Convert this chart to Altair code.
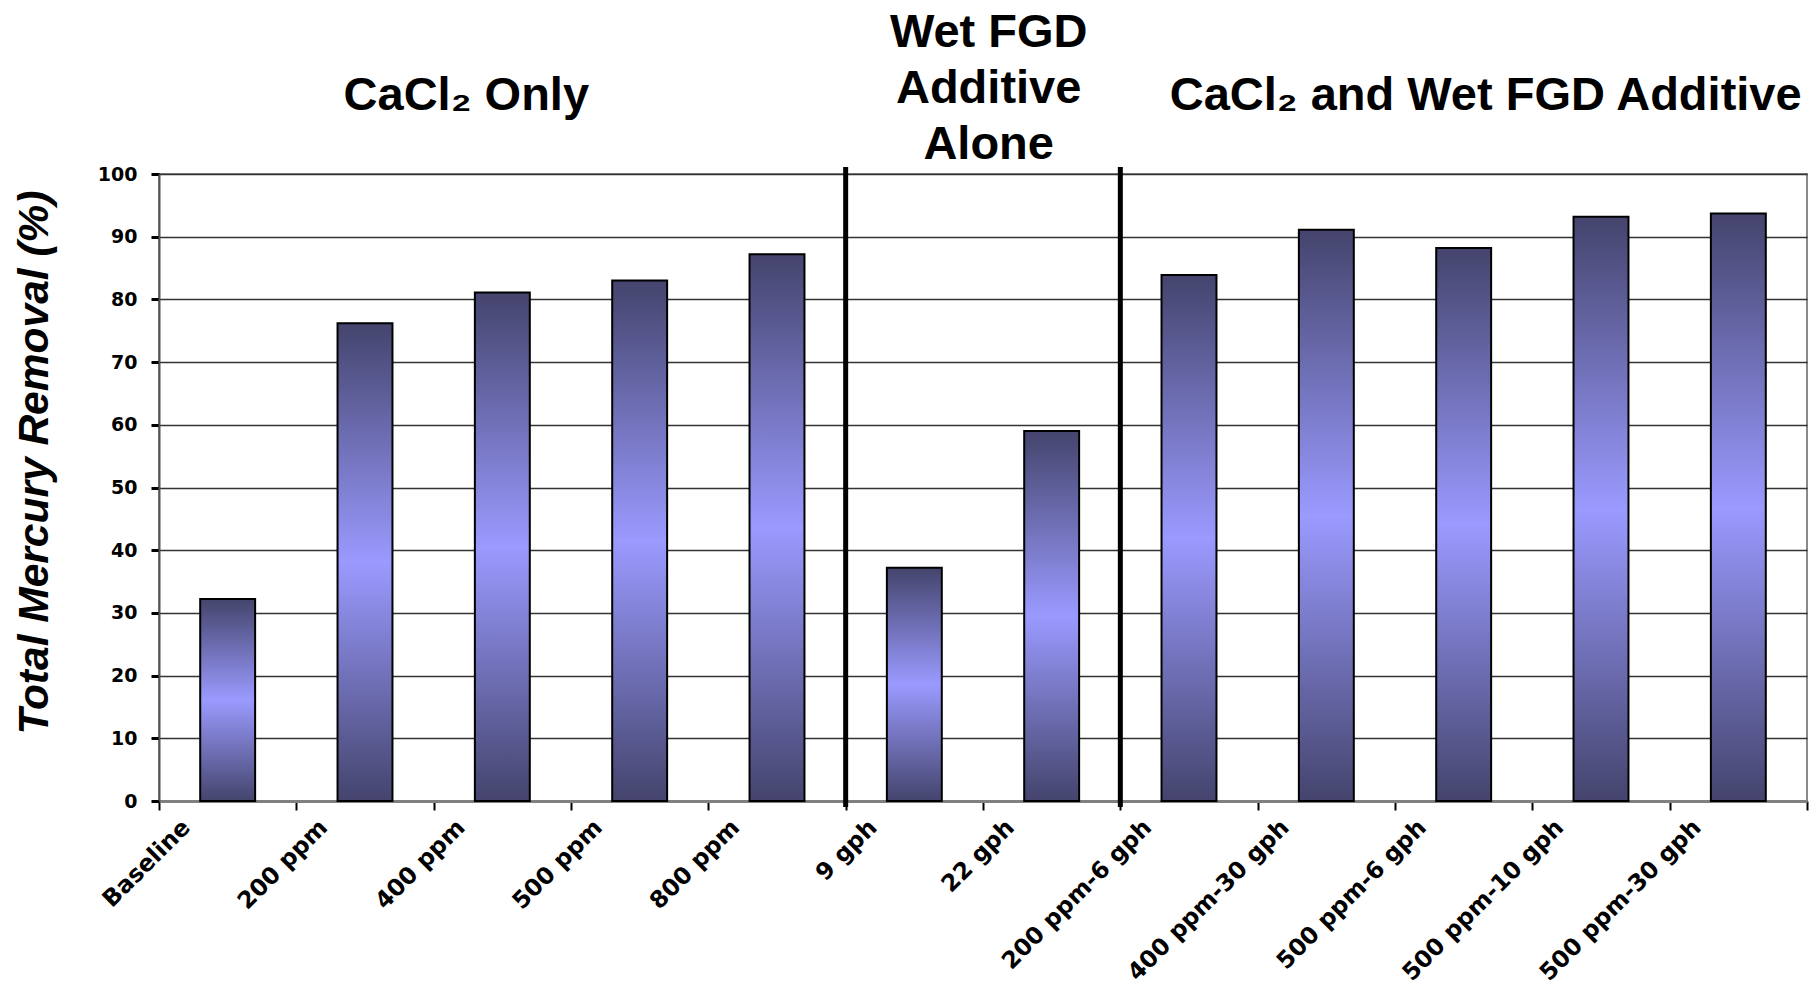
import altair as alt
import pandas as pd

categories = ["Baseline", "200 ppm", "400 ppm", "500 ppm", "800 ppm", "9 gph", "22 gph",
              "200 ppm-6 gph", "400 ppm-30 gph", "500 ppm-6 gph", "500 ppm-10 gph", "500 ppm-30 gph"]
removal = [32.2, 76.2, 81.1, 83.0, 87.2, 37.2, 59.0, 83.9, 91.1, 88.2, 93.2, 93.7]

group_titles = ["CaCl\u2082 Only", "Wet FGD", "Additive", "Alone", "CaCl\u2082 and Wet FGD Additive"]
group_anchor = ["400 ppm", "22 gph", "22 gph", "22 gph", "500 ppm-6 gph"]
group_dx = [-36, -63, -63, -63, 22]
group_y = [-78, -141, -85, -29, -78]

separator_at = ["9 gph", "200 ppm-6 gph"]

bars_df = pd.DataFrame({"cat": categories, "val": removal})
titles_df = pd.DataFrame({"label": group_titles, "cat": group_anchor, "dx": group_dx, "y": group_y})
sep_df = pd.DataFrame({"cat": separator_at})

W, H = 1648, 627

xscale = alt.Scale(domain=categories, paddingInner=0, paddingOuter=0)
yscale = alt.Scale(domain=[0, 100])

gradient = alt.LinearGradient(
    gradient="linear", x1=0, y1=0, x2=0, y2=1,
    stops=[
        alt.GradientStop(color="#44446d", offset=0),
        alt.GradientStop(color="#9a9aff", offset=0.5),
        alt.GradientStop(color="#44446d", offset=1),
    ],
)

bars = alt.Chart(bars_df).mark_bar(
    width={"band": 0.4}, fill=gradient, stroke="#000000", strokeWidth=2
).encode(
    x=alt.X("cat:N", scale=xscale, sort=categories,
            axis=alt.Axis(title=None, labelAngle=-45, tickBand="extent",
                          labelFont="DejaVu Sans", labelFontWeight="bold", labelFontSize=23.5,
                          labelColor="#000", labelOffset=-50, labelPadding=5,
                          tickColor="#000", tickWidth=2, tickSize=9,
                          domainColor="#808080", domainWidth=3, grid=False, labelLimit=400)),
    y=alt.Y("val:Q", scale=yscale,
            axis=alt.Axis(title="Total Mercury Removal (%)", values=list(range(0, 101, 10)),
                          labelFont="DejaVu Sans", labelFontWeight="bold", labelFontSize=19,
                          labelColor="#000", labelPadding=14,
                          tickColor="#000", tickWidth=3, tickSize=8,
                          domainColor="#555", domainWidth=2,
                          grid=True, gridColor="#333", gridWidth=1.5,
                          titleFont="Liberation Sans", titleFontSize=42.5, titleFontStyle="italic",
                          titleFontWeight="bold", titleColor="#000", titlePadding=41,
                          titleY=288)),
)

seps = alt.Chart(sep_df).mark_rule(color="#000", strokeWidth=5).encode(
    x=alt.X("cat:N", scale=xscale, sort=categories, bandPosition=0),
    y=alt.value(-7),
    y2=alt.value(H + 6),
)

title_layers = []
for lab, dx in zip(group_titles, group_dx):
    sub = titles_df[titles_df["label"] == lab]
    title_layers.append(
        alt.Chart(sub).mark_text(
            font="Liberation Sans", fontWeight="bold", fontSize=47, color="#000",
            baseline="middle", dx=dx
        ).encode(
            x=alt.X("cat:N", scale=xscale, sort=categories),
            y=alt.Y("y:Q", scale=None),
            text="label:N",
        )
    )

chart = alt.layer(bars, seps, *title_layers).properties(
    width=W, height=H,
    background="white",
    autosize=alt.AutoSizeParams(type="none"),
    padding={"left": 151, "top": 166, "right": 2, "bottom": 186},
).configure_view(
    stroke="#8a8a8a", strokeWidth=2
)

chart.save("out.html", embed_options={"renderer": "svg", "actions": False})
